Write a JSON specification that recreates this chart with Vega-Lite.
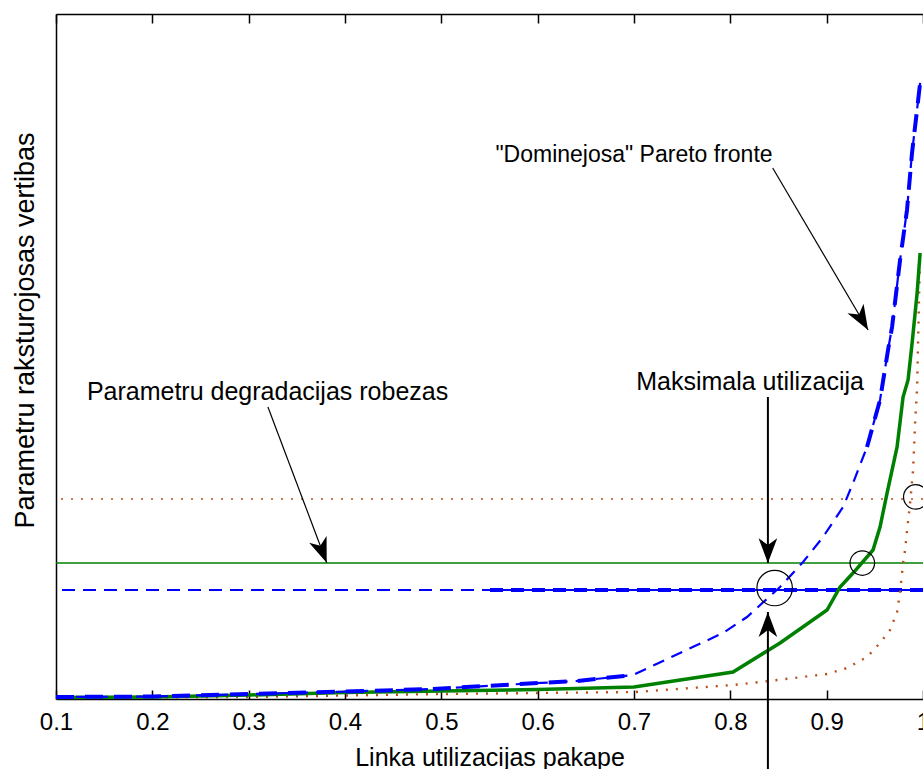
{
  "$schema": "https://vega.github.io/schema/vega-lite/v6.json",
  "width": 867,
  "height": 685,
  "autosize": {"type": "none"},
  "padding": {"left": 56, "top": 14, "right": 0, "bottom": 70},
  "background": "white",
  "config": {"font": "Liberation Sans", "view": {"stroke": null}},
  "datasets": {
    "levels": [
      {"curve": "orange", "y": 29.2},
      {"curve": "green", "y": 19.85},
      {"curve": "blue", "y": 15.91}
    ],
    "blueSegment": [{"x": 0.5505, "x2": 1.0, "y": 15.91}],
    "blue": [
      {"x": 0.1, "y": 0.29, "seg": "low"},
      {"x": 0.2007, "y": 0.36, "seg": "low"},
      {"x": 0.3014, "y": 0.73, "seg": "low"},
      {"x": 0.401, "y": 1.09, "seg": "low"},
      {"x": 0.4914, "y": 1.46, "seg": "low"},
      {"x": 0.5817, "y": 2.19, "seg": "low"},
      {"x": 0.6409, "y": 2.63, "seg": "low"},
      {"x": 0.699, "y": 3.5, "seg": "low"},
      {"x": 0.7478, "y": 6.72, "seg": "mid"},
      {"x": 0.7924, "y": 9.64, "seg": "mid"},
      {"x": 0.8173, "y": 11.97, "seg": "mid"},
      {"x": 0.8516, "y": 16.35, "seg": "mid"},
      {"x": 0.8755, "y": 20.0, "seg": "mid"},
      {"x": 0.8962, "y": 23.65, "seg": "mid"},
      {"x": 0.917, "y": 28.03, "seg": "mid"},
      {"x": 0.9274, "y": 31.53, "seg": "mid"},
      {"x": 0.9419, "y": 36.79, "seg": "high"},
      {"x": 0.9554, "y": 43.65, "seg": "high"},
      {"x": 0.9637, "y": 50.95, "seg": "high"},
      {"x": 0.9679, "y": 54.31, "seg": "high"},
      {"x": 0.9762, "y": 64.09, "seg": "high"},
      {"x": 0.9834, "y": 71.39, "seg": "high"},
      {"x": 0.9886, "y": 79.71, "seg": "high"},
      {"x": 0.9938, "y": 85.99, "seg": "high"},
      {"x": 0.997, "y": 89.93, "seg": "high"}
    ],
    "green": [
      {"x": 0.1, "y": 0.22},
      {"x": 0.2, "y": 0.29},
      {"x": 0.25, "y": 0.44},
      {"x": 0.3, "y": 0.58},
      {"x": 0.4, "y": 0.95},
      {"x": 0.5, "y": 1.17},
      {"x": 0.6, "y": 1.39},
      {"x": 0.7, "y": 1.75},
      {"x": 0.8028, "y": 3.94},
      {"x": 0.8516, "y": 8.18},
      {"x": 0.9004, "y": 12.99},
      {"x": 0.9139, "y": 16.35},
      {"x": 0.9274, "y": 18.39},
      {"x": 0.9481, "y": 21.75},
      {"x": 0.9554, "y": 25.11},
      {"x": 0.9627, "y": 30.07},
      {"x": 0.9731, "y": 36.79},
      {"x": 0.9793, "y": 44.09},
      {"x": 0.9845, "y": 46.57},
      {"x": 0.9887, "y": 51.97},
      {"x": 0.9939, "y": 59.27},
      {"x": 0.997, "y": 65.11}
    ],
    "orange": [
      {"x": 0.1, "y": 0.15},
      {"x": 0.3014, "y": 0.29},
      {"x": 0.5007, "y": 0.73},
      {"x": 0.6014, "y": 0.88},
      {"x": 0.701, "y": 1.02},
      {"x": 0.8028, "y": 2.04},
      {"x": 0.8485, "y": 2.77},
      {"x": 0.9004, "y": 3.65},
      {"x": 0.9212, "y": 4.53},
      {"x": 0.9419, "y": 6.13},
      {"x": 0.9554, "y": 8.18},
      {"x": 0.9658, "y": 10.07},
      {"x": 0.9731, "y": 12.7},
      {"x": 0.9762, "y": 15.62},
      {"x": 0.9793, "y": 19.85},
      {"x": 0.9814, "y": 21.75},
      {"x": 0.9835, "y": 24.67},
      {"x": 0.9866, "y": 28.61},
      {"x": 0.9897, "y": 33.43},
      {"x": 0.9918, "y": 40.29},
      {"x": 0.9939, "y": 45.55},
      {"x": 0.996, "y": 59.27},
      {"x": 0.997, "y": 65.11}
    ],
    "bigMarker": [{"x": 0.846, "y": 16.2}],
    "markers": [
      {"x": 0.937, "y": 19.85},
      {"x": 0.9925, "y": 29.5}
    ],
    "arrows": [
      {"id": "pareto", "x": 0.844, "y": 77.52, "x2": 0.943, "y2": 53.87},
      {"id": "degr", "x": 0.32, "y": 42.63, "x2": 0.381, "y2": 19.9}
    ],
    "vArrows": [
      {"id": "down", "x": 0.839, "y": 44.09, "x2": 0.839, "y2": 19.85},
      {"id": "up", "x": 0.839, "y": -10.5, "x2": 0.839, "y2": 12.7}
    ],
    "notes": [
      {"text": "Parametru degradacijas robezas", "x": 0.3196, "y": 43.65},
      {"text": "Maksimala utilizacija", "x": 0.8205, "y": 45.11}
    ],
    "notes2": [
      {"text": "\"Dominejosa\" Pareto fronte", "x": 0.7, "y": 78.39}
    ]
  },
  "layer": [
    {
      "data": {"name": "levels"},
      "transform": [{"filter": "datum.curve == 'orange'"}],
      "mark": {"type": "rule", "color": "#b8501c", "strokeWidth": 1.6, "strokeDash": [2, 8]},
      "encoding": {
        "y": {
          "field": "y", "type": "quantitative",
          "scale": {"domain": [0, 100], "nice": false, "zero": false},
          "axis": {
            "orient": "left", "ticks": false, "labels": false, "grid": false,
            "domainColor": "black", "domainWidth": 1.5,
            "title": "Parametru raksturojosas vertibas",
            "titleFontSize": 27, "titleFontWeight": "normal", "titleColor": "black",
            "titleX": -23, "titleY": 316, "titleBaseline": "alphabetic", "titleAlign": "center", "titleAngle": 270
          }
        }
      }
    },
    {
      "data": {"name": "levels"},
      "transform": [{"filter": "datum.curve == 'green'"}],
      "mark": {"type": "rule", "color": "#008000", "strokeWidth": 1.5},
      "encoding": {
        "y": {"field": "y", "type": "quantitative", "axis": null}
      }
    },
    {
      "data": {"name": "levels"},
      "transform": [{"filter": "datum.curve == 'blue'"}],
      "mark": {"type": "rule", "color": "#0000ff", "strokeWidth": 2, "strokeDash": [13, 8], "strokeDashOffset": -8},
      "encoding": {
        "y": {"field": "y", "type": "quantitative", "axis": null}
      }
    },
    {
      "data": {"name": "blueSegment"},
      "mark": {"type": "rule", "color": "#0000ff", "strokeWidth": 4, "strokeDash": [13, 8]},
      "encoding": {
        "x": {
          "field": "x", "type": "quantitative",
          "scale": {"domain": [0.1, 1.0], "nice": false, "zero": false},
          "axis": {
            "orient": "bottom",
            "values": [0.1, 0.2, 0.3, 0.4, 0.5, 0.6, 0.7, 0.8, 0.9, 1.0],
            "format": "~g", "grid": false,
            "tickSize": -9, "tickColor": "black", "tickWidth": 1.5,
            "domainColor": "black", "domainWidth": 1.5,
            "labelPadding": 20, "labelFontSize": 24, "labelColor": "black",
            "labelFlush": false, "labelOverlap": false,
            "title": "Linka utilizacijas pakape",
            "titleFontSize": 25, "titleFontWeight": "normal", "titleColor": "black",
            "titleY": 66, "titleBaseline": "alphabetic"
          }
        },
        "x2": {"field": "x2"},
        "y": {"field": "y", "type": "quantitative", "axis": null}
      }
    },
    {
      "data": {"name": "orange"},
      "mark": {"type": "line", "color": "#b8501c", "strokeWidth": 2.4, "strokeDash": [2, 8]},
      "encoding": {
        "x": {
          "field": "x", "type": "quantitative",
          "axis": {
            "orient": "top",
            "values": [0.1, 0.2, 0.3, 0.4, 0.5, 0.6, 0.7, 0.8, 0.9, 1.0],
            "labels": false, "grid": false, "title": null,
            "tickSize": -9, "tickColor": "black", "tickWidth": 1.5,
            "domainColor": "black", "domainWidth": 1.5
          }
        },
        "y": {"field": "y", "type": "quantitative", "axis": null}
      }
    },
    {
      "data": {"name": "green"},
      "mark": {"type": "line", "color": "#008000", "strokeWidth": 3.5},
      "encoding": {
        "x": {"field": "x", "type": "quantitative", "axis": null},
        "y": {"field": "y", "type": "quantitative", "axis": null}
      }
    },
    {
      "data": {"name": "blue"},
      "mark": {"type": "line", "color": "#0000ff", "strokeWidth": 2.2, "strokeDash": [12, 8]},
      "encoding": {
        "x": {"field": "x", "type": "quantitative", "axis": null},
        "y": {"field": "y", "type": "quantitative", "axis": null}
      }
    },
    {
      "data": {"name": "blue"},
      "transform": [{"filter": "datum.seg != 'mid'"}],
      "mark": {"type": "line", "color": "#0000ff", "strokeWidth": 4, "strokeDash": [18, 11]},
      "encoding": {
        "x": {"field": "x", "type": "quantitative", "axis": null},
        "y": {"field": "y", "type": "quantitative", "axis": null},
        "detail": {"field": "seg"}
      }
    },
    {
      "data": {"name": "bigMarker"},
      "mark": {"type": "point", "shape": "circle", "filled": false, "stroke": "black", "strokeWidth": 1.2, "size": 1257, "opacity": 1},
      "encoding": {
        "x": {"field": "x", "type": "quantitative", "axis": null},
        "y": {"field": "y", "type": "quantitative", "axis": null}
      }
    },
    {
      "data": {"name": "markers"},
      "mark": {"type": "point", "shape": "circle", "filled": false, "stroke": "black", "strokeWidth": 1.2, "size": 600, "opacity": 1},
      "encoding": {
        "x": {"field": "x", "type": "quantitative", "axis": null},
        "y": {"field": "y", "type": "quantitative", "axis": null}
      }
    },
    {
      "data": {"name": "arrows"},
      "mark": {"type": "rule", "color": "black", "strokeWidth": 1.2},
      "encoding": {
        "x": {"field": "x", "type": "quantitative", "axis": null},
        "y": {"field": "y", "type": "quantitative", "axis": null},
        "x2": {"field": "x2"},
        "y2": {"field": "y2"}
      }
    },
    {
      "data": {"name": "vArrows"},
      "mark": {"type": "rule", "color": "black", "strokeWidth": 2},
      "encoding": {
        "x": {"field": "x", "type": "quantitative", "axis": null},
        "y": {"field": "y", "type": "quantitative", "axis": null},
        "x2": {"field": "x2"},
        "y2": {"field": "y2"}
      }
    },
    {
      "data": {"name": "arrows"},
      "transform": [{"filter": "datum.id == 'pareto'"}],
      "mark": {"type": "point", "shape": "M0,0L-0.75,2L0,1.45L0.75,2Z", "filled": true, "color": "black", "opacity": 1, "size": 620, "angle": 149.6},
      "encoding": {
        "x": {"field": "x2", "type": "quantitative", "axis": null},
        "y": {"field": "y2", "type": "quantitative", "axis": null}
      }
    },
    {
      "data": {"name": "arrows"},
      "transform": [{"filter": "datum.id == 'degr'"}],
      "mark": {"type": "point", "shape": "M0,0L-0.75,2L0,1.45L0.75,2Z", "filled": true, "color": "black", "opacity": 1, "size": 620, "angle": 159.2},
      "encoding": {
        "x": {"field": "x2", "type": "quantitative", "axis": null},
        "y": {"field": "y2", "type": "quantitative", "axis": null}
      }
    },
    {
      "data": {"name": "vArrows"},
      "transform": [{"filter": "datum.id == 'down'"}],
      "mark": {"type": "point", "shape": "M0,0L-0.75,2L0,1.45L0.75,2Z", "filled": true, "color": "black", "opacity": 1, "size": 620, "angle": 180},
      "encoding": {
        "x": {"field": "x2", "type": "quantitative", "axis": null},
        "y": {"field": "y2", "type": "quantitative", "axis": null}
      }
    },
    {
      "data": {"name": "vArrows"},
      "transform": [{"filter": "datum.id == 'up'"}],
      "mark": {"type": "point", "shape": "M0,0L-0.75,2L0,1.45L0.75,2Z", "filled": true, "color": "black", "opacity": 1, "size": 620, "angle": 0},
      "encoding": {
        "x": {"field": "x2", "type": "quantitative", "axis": null},
        "y": {"field": "y2", "type": "quantitative", "axis": null}
      }
    },
    {
      "data": {"name": "notes"},
      "mark": {"type": "text", "align": "center", "baseline": "alphabetic", "fontSize": 25, "color": "black", "font": "Liberation Sans"},
      "encoding": {
        "x": {"field": "x", "type": "quantitative", "axis": null},
        "y": {"field": "y", "type": "quantitative", "axis": null},
        "text": {"field": "text"}
      }
    },
    {
      "data": {"name": "notes2"},
      "mark": {"type": "text", "align": "center", "baseline": "alphabetic", "fontSize": 23, "color": "black", "font": "Liberation Sans"},
      "encoding": {
        "x": {"field": "x", "type": "quantitative", "axis": null},
        "y": {"field": "y", "type": "quantitative", "axis": null},
        "text": {"field": "text"}
      }
    }
  ],
  "resolve": {"axis": {"x": "independent", "y": "independent"}}
}
